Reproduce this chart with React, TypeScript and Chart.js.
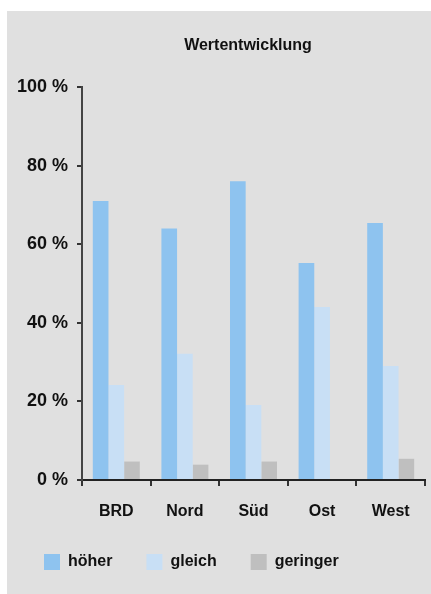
import React, { useEffect, useRef } from 'react';
import { Chart, registerables } from 'chart.js';

Chart.register(...registerables);

const chartTitle = 'Wertentwicklung';
const categories = ['BRD', 'Nord', 'Süd', 'Ost', 'West'];
const seriesNames = ['höher', 'gleich', 'geringer'];
const hoeher = [71, 64, 76, 55.2, 65.4];
const gleich = [24.2, 32.1, 19.1, 44, 29];
const geringer = [4.7, 3.9, 4.7, 0, 5.4];
const seriesColors = ['#8EC3EF', '#C8DFF5', '#BFBFBF'];
const yMin = 0;
const yMax = 100;
const yStep = 20;

const FONT = '"Liberation Sans", Arial, sans-serif';

const titlePlugin = {
  id: 'customTitle',
  afterDraw(chart: any) {
    const { ctx, chartArea } = chart;
    ctx.save();
    ctx.font = `bold 16px ${FONT}`;
    ctx.fillStyle = '#111';
    ctx.textAlign = 'center';
    ctx.textBaseline = 'middle';
    ctx.fillText(chartTitle, chartArea.left + (chartArea.right - chartArea.left) * 0.484, 35);
    ctx.restore();
  },
};

export default function App() {
  const ref = useRef<HTMLCanvasElement | null>(null);

  useEffect(() => {
    if (!ref.current) return;
    const chart = new Chart(ref.current, {
      type: 'bar',
      data: {
        labels: categories,
        datasets: [hoeher, gleich, geringer].map((d, i) => ({
          label: seriesNames[i],
          data: d,
          backgroundColor: seriesColors[i],
          borderWidth: 0,
          categoryPercentage: 0.685,
          barPercentage: 1,
        })),
      },
      options: {
        responsive: false,
        animation: false,
        layout: { padding: { left: 3, right: 6, top: 76, bottom: 14 } },
        plugins: {
          title: { display: false },
          tooltip: { enabled: false },
          legend: {
            position: 'bottom',
            align: 'start',
            labels: {
              boxWidth: 16,
              boxHeight: 16,
              padding: 34,
              color: '#111',
              font: { family: FONT, size: 16, weight: 'bold' },
            },
          },
        },
        scales: {
          x: {
            grid: {
              display: true,
              drawOnChartArea: false,
              drawTicks: true,
              tickLength: 6,
              color: '#333',
              lineWidth: 2,
            },
            border: { display: true, color: '#222', width: 2 },
            ticks: {
              color: '#111',
              padding: 16,
              font: { family: FONT, size: 16, weight: 'bold' },
            },
            afterFit: (s: any) => {
              s.height = 40;
            },
          },
          y: {
            min: yMin,
            max: yMax,
            grid: {
              display: true,
              drawOnChartArea: false,
              drawTicks: true,
              tickLength: 5,
              color: '#333',
              lineWidth: 2,
            },
            border: { display: true, color: '#444', width: 2 },
            ticks: {
              stepSize: yStep,
              color: '#111',
              padding: 9,
              font: { family: FONT, size: 18, weight: 'bold' },
              callback: (v: any) => `${v} %`,
            },
            afterFit: (s: any) => {
              s.width = 72;
            },
          },
        },
      },
      plugins: [titlePlugin],
    });
    return () => chart.destroy();
  }, []);

  return (
    <div
      style={{
        position: 'absolute',
        left: 7,
        top: 11,
        width: 424,
        height: 583,
        background: '#E0E0E0',
      }}
    >
      <canvas ref={ref} width={424} height={583} style={{ display: 'block' }} />
    </div>
  );
}
